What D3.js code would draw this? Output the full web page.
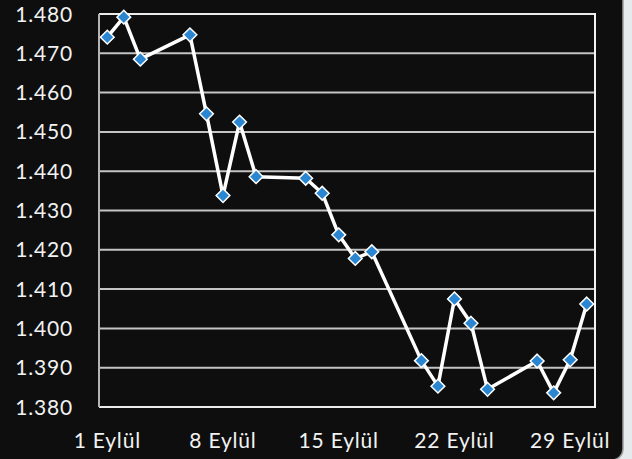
<!DOCTYPE html>
<html>
<head>
<meta charset="utf-8">
<script src="https://cdn.jsdelivr.net/npm/d3@7"></script>
<style>
  html, body { margin: 0; padding: 0; background: #e5ebec; }
  svg { display: block; }
  text { font-family: Lato, "Open Sans", sans-serif; fill: #f2f2f2; }
</style>
</head>
<body>
<div id="chart"></div>
<script>
// data: day of September and price
var days   = [1, 2, 3, 6, 7, 8, 9, 10, 13, 14, 15, 16, 17, 20, 21, 22, 23, 24, 27, 28, 29, 30];
var values = [1.4741, 1.4792, 1.4685, 1.4747, 1.4546, 1.4338, 1.4525, 1.4386, 1.4382, 1.4344,
              1.4238, 1.4178, 1.4195, 1.3918, 1.3853, 1.4075, 1.4013, 1.3845, 1.3917, 1.3836,
              1.3920, 1.4062];
var yTicks = [1.38, 1.39, 1.40, 1.41, 1.42, 1.43, 1.44, 1.45, 1.46, 1.47, 1.48];
var xTicks = [1, 8, 15, 22, 29];
var xLabel = function(d) { return d + " Eylül"; };

// setup dimensions
var W = 632, H = 459,
    plot = {left: 99, right: 595, top: 14, bottom: 407};

var svg = d3.select("#chart").append("svg")
  .attr("width", W)
  .attr("height", H);

// dark panel
svg.append("rect")
  .attr("x", -12).attr("y", -20)
  .attr("width", 635).attr("height", 480)
  .attr("rx", 11)
  .attr("fill", "#0e0e0e")
  .attr("stroke", "#9a9c9d")
  .attr("stroke-width", 1.5);

// scales
var x = d3.scaleLinear().domain([0.5, 30.5]).range([plot.left, plot.right]);
var y = d3.scaleLinear().domain([1.38, 1.48]).range([plot.bottom, plot.top]);

// grid lines
svg.append("g")
  .selectAll("line")
  .data(yTicks)
  .enter().append("line")
  .attr("x1", plot.left).attr("x2", plot.right)
  .attr("y1", function(d) { return y(d); })
  .attr("y2", function(d) { return y(d); })
  .attr("stroke", function(d, i) { return i == yTicks.length - 1 || i == 0 ? "#ececec" : "#c4c4c4"; })
  .attr("stroke-width", 2);

// frame sides
svg.append("line")
  .attr("x1", plot.left).attr("x2", plot.left)
  .attr("y1", plot.top).attr("y2", plot.bottom)
  .attr("stroke", "#b4b4b4").attr("stroke-width", 2);
svg.append("line")
  .attr("x1", plot.right).attr("x2", plot.right)
  .attr("y1", plot.top - 1).attr("y2", plot.bottom + 1)
  .attr("stroke", "#f4f4f4").attr("stroke-width", 2);

// y labels
svg.append("g")
  .selectAll("text")
  .data(yTicks)
  .enter().append("text")
  .attr("x", 73)
  .attr("y", function(d) { return y(d); })
  .attr("dy", "0.36em")
  .attr("text-anchor", "end")
  .style("font-size", "21px")
  .style("letter-spacing", "0.8px")
  .text(function(d) { return d3.format(".3f")(d); });

// x labels
svg.append("g")
  .selectAll("text")
  .data(xTicks)
  .enter().append("text")
  .attr("x", function(d) { return x(d); })
  .attr("y", 448)
  .attr("text-anchor", "middle")
  .style("font-size", "21px")
  .style("letter-spacing", "0.8px")
  .text(xLabel);

// line
var pts = days.map(function(d, i) { return [d, values[i]]; });
var valueline = d3.line()
  .x(function(d) { return x(d[0]); })
  .y(function(d) { return y(d[1]); });

svg.append("path")
  .datum(pts)
  .attr("d", valueline)
  .attr("fill", "none")
  .attr("stroke", "#ffffff")
  .attr("stroke-width", 3.5)
  .attr("stroke-linejoin", "round");

// diamond markers
svg.append("g")
  .selectAll("path")
  .data(pts)
  .enter().append("path")
  .attr("transform", function(d) { return "translate(" + x(d[0]) + "," + y(d[1]) + ")"; })
  .attr("d", d3.symbol().type(d3.symbolDiamond2).size(120))
  .attr("fill", "#2a86d0")
  .attr("stroke", "#ffffff")
  .attr("stroke-width", 1.5);
</script>
</body>
</html>
